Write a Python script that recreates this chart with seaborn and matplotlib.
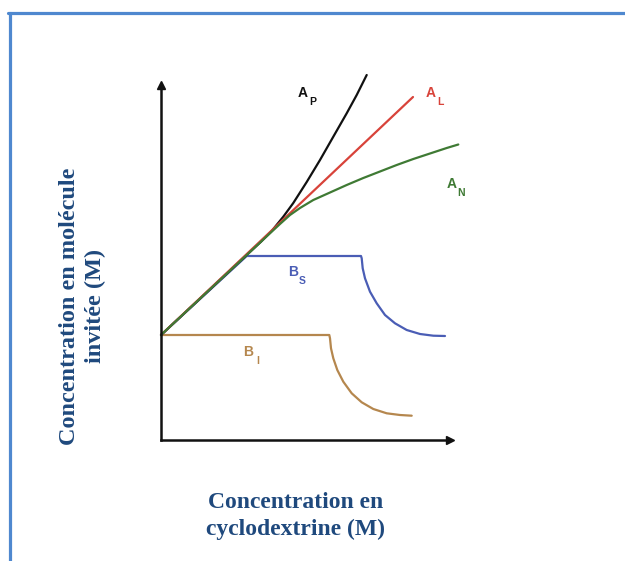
import matplotlib
matplotlib.use("Agg")
import matplotlib.pyplot as plt
import seaborn as sns
from matplotlib.lines import Line2D

sns.set_style("white")

# ---- data ----
ap_x = [0.0, 0.857, 1.0, 1.107, 1.223, 1.323, 1.457, 1.59, 1.723, 1.857, 1.957, 2.057]
ap_y = [1.05, 1.85, 1.983, 2.09, 2.233, 2.37, 2.58, 2.80, 3.033, 3.267, 3.45, 3.65]

al_x = [0.0, 2.52]
al_y = [1.05, 3.43]

an_x = [0.0, 0.857, 1.05, 1.19, 1.29, 1.39, 1.523, 1.69, 1.857, 2.023, 2.19,
        2.357, 2.523, 2.69, 2.857, 2.973]
an_y = [1.05, 1.85, 2.03, 2.16, 2.25, 2.32, 2.40, 2.475, 2.55, 2.62, 2.685,
        2.75, 2.81, 2.865, 2.92, 2.955]

bs_x = [0.0, 0.857, 2.0, 2.007, 2.017, 2.04, 2.09, 2.157, 2.24, 2.34, 2.457,
        2.59, 2.723, 2.84]
bs_y = [1.05, 1.84, 1.84, 1.817, 1.717, 1.617, 1.483, 1.367, 1.25, 1.167, 1.10,
        1.06, 1.043, 1.04]

bi_x = [0.0, 1.683, 1.69, 1.70, 1.723, 1.763, 1.823, 1.907, 2.007, 2.123, 2.257,
        2.39, 2.507]
bi_y = [1.05, 1.05, 1.017, 0.917, 0.817, 0.70, 0.583, 0.467, 0.377, 0.31, 0.267,
        0.25, 0.243]

labels = ["A", "A", "A", "B", "B"]
subs = ["P", "L", "N", "S", "I"]
label_x = [1.42, 2.70, 2.91, 1.32, 0.87]
label_y = [3.47, 3.47, 2.56, 1.68, 0.88]

x_label = "Concentration en\ncyclodextrine (M)"
y_label = "Concentration en molécule\ninvitée (M)"

# ---- figure ----
W, H = 625, 561
fig = plt.figure(figsize=(W / 100, H / 100), dpi=100)
ax = fig.add_axes([161 / W, 1 - 440 / H, 289 / W, 355 / H])
ax.set_xlim(0, 2.89)
ax.set_ylim(0, 3.55)

colors = {"P": "#111111", "L": "#d8433a", "N": "#3f7a34", "S": "#4a5db5", "I": "#b5874e"}

series = [
    (bi_x, bi_y, colors["I"]),
    (bs_x, bs_y, colors["S"]),
    (ap_x, ap_y, colors["P"]),
    (al_x, al_y, colors["L"]),
    (an_x, an_y, colors["N"]),
]
for xs, ys, c in series:
    sns.lineplot(x=xs, y=ys, sort=False, color=c, lw=1.6, ax=ax,
                 estimator=None, clip_on=False, solid_joinstyle="round",
                 solid_capstyle="round")

for t, s, lx, ly in zip(labels, subs, label_x, label_y):
    c = colors[s]
    ax.text(lx, ly, t, color=c, fontsize=10, fontweight="bold",
            family="Liberation Sans", ha="center", va="center")
    ax.text(lx + 0.095, ly - 0.09, s, color=c, fontsize=7.5, fontweight="bold",
            family="Liberation Sans", ha="center", va="center")

# axes styling with arrows
for side in ["top", "right"]:
    ax.spines[side].set_visible(False)
for side in ["left", "bottom"]:
    ax.spines[side].set_linewidth(1.8)
    ax.spines[side].set_color("#111111")
ax.set_xticks([])
ax.set_yticks([])
ax.plot(1, 0, ">", color="#111111", ms=6, transform=ax.get_yaxis_transform(), clip_on=False)
ax.plot(0, 1, "^", color="#111111", ms=6, transform=ax.get_xaxis_transform(), clip_on=False)

lab_color = "#1f497d"
fig.text(295.5 / W, 1 - 516 / H, x_label, ha="center", va="center",
         fontsize=17, fontweight="bold", family="Liberation Serif",
         color=lab_color, linespacing=1.3)
fig.text(82.5 / W, 1 - 306 / H, y_label, ha="center", va="center", rotation=90,
         fontsize=17.5, fontweight="bold", family="Liberation Serif",
         color=lab_color, linespacing=1.3)

# blue frame (top and left)
border = "#4f88cf"
fig.add_artist(Line2D([8 / W, 1], [1 - 12.5 / H, 1 - 12.5 / H], color=border, lw=2.3,
                      transform=fig.transFigure))
fig.add_artist(Line2D([9.5 / W, 9.5 / W], [0, 1 - 12.5 / H], color=border, lw=2.3,
                      transform=fig.transFigure))

fig.savefig("out.png", dpi=100)
